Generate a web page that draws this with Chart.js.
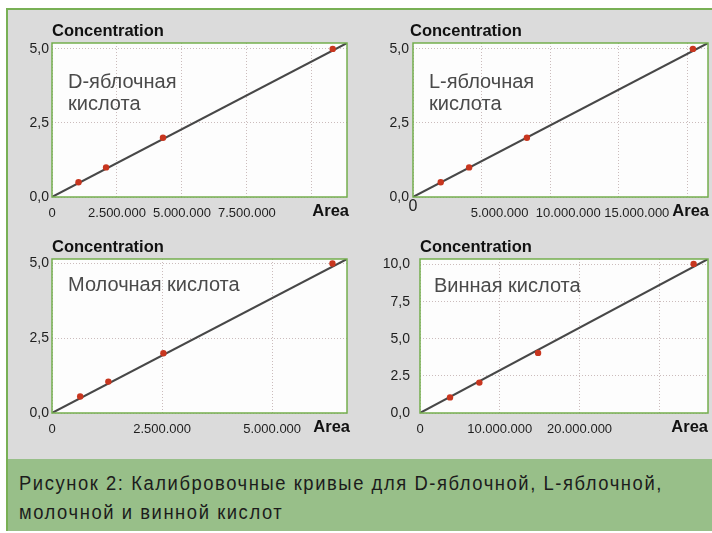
<!DOCTYPE html>
<html>
<head>
<meta charset="utf-8">
<script src="https://cdn.jsdelivr.net/npm/chart.js@4.4.1/dist/chart.umd.min.js"></script>
<style>
  html, body { margin: 0; padding: 0; background: #ffffff; }
  #fig { position: relative; width: 712px; height: 533px; overflow: hidden; background: #ffffff; }
  #frame {
    position: absolute; left: 6px; top: 8px; width: 706px; height: 451px;
    background: #dbdbdb; border-left: 2px solid #78b055; border-top: 2px solid #78b055;
    box-sizing: border-box;
  }
  #caption {
    position: absolute; left: 6px; top: 459px; width: 706px; height: 72px;
    background: #98bf89; border-left: 2px solid #78b055; box-sizing: border-box;
    color: #1c1c1c; overflow: hidden;
  }
  #caption div {
    position: absolute; left: 11px; top: 10px; transform-origin: 0 0; transform: scaleX(0.92);
    font-family: "Liberation Sans Narrow", "Liberation Sans", Arial, sans-serif;
    font-size: 20px; line-height: 29px; letter-spacing: 1.7px; white-space: nowrap;
  }
  canvas { position: absolute; }
</style>
</head>
<body>
<div id="fig">
  <div id="frame"></div>
  <canvas id="pA" width="356" height="230" style="left:0;top:0"></canvas>
  <canvas id="pB" width="356" height="230" style="left:356px;top:0"></canvas>
  <canvas id="pC" width="356" height="229" style="left:0;top:230px"></canvas>
  <canvas id="pD" width="356" height="229" style="left:356px;top:230px"></canvas>
  <div id="caption"><div>Рисунок 2: Калибровочные кривые для D-яблочной, L-яблочной,<br>молочной и винной кислот</div></div>
</div>
<script>
// ---- D-malic acid ----
const dMalicArea = [1020000, 2080000, 4270000, 10800000];
const dMalicConc = [0.5, 1.0, 2.0, 5.0];
const dMalicFitArea = [0, 11350000];
const dMalicFitConc = [0, 5.2];
const dMalicXTicks = [0, 2500000, 5000000, 7500000, 10000000];
const dMalicXLabels = ['0', '2.500.000', '5.000.000', '7.500.000', ''];
const dMalicYTicks = [0, 2.5, 5.0];
const dMalicYLabels = ['0,0', '2,5', '5,0'];

// ---- L-malic acid ----
const lMalicArea = [2020000, 4090000, 8300000, 20400000];
const lMalicConc = [0.5, 1.0, 2.0, 5.0];
const lMalicFitArea = [0, 21500000];
const lMalicFitConc = [0, 5.2];
const lMalicXTicks = [0, 5000000, 10000000, 15000000, 20000000];
const lMalicXLabels = ['', '5.000.000', '10.000.000', '15.000.000', ''];
const lMalicYTicks = [0, 2.5, 5.0];
const lMalicYLabels = ['0,0', '2,5', '5,0'];

// ---- lactic acid ----
const lacticArea = [640000, 1280000, 2530000, 6370000];
const lacticConc = [0.55, 1.05, 2.0, 5.0];
const lacticFitArea = [0, 6700000];
const lacticFitConc = [0, 5.15];
const lacticXTicks = [0, 2500000, 5000000];
const lacticXLabels = ['0', '2.500.000', '5.000.000'];
const lacticYTicks = [0, 2.5, 5.0];
const lacticYLabels = ['0,0', '2,5', '5,0'];

// ---- tartaric acid ----
const tartaricArea = [3760000, 7440000, 14800000, 34300000];
const tartaricConc = [1.05, 2.05, 4.05, 10.05];
const tartaricFitArea = [0, 36100000];
const tartaricFitConc = [0, 10.38];
const tartaricXTicks = [0, 10000000, 20000000, 30000000];
const tartaricXLabels = ['0', '10.000.000', '20.000.000', ''];
const tartaricYTicks = [0, 2.5, 5.0, 7.5, 10.0];
const tartaricYLabels = ['0,0', '2.5', '5,0', '7,5', '10,0'];

const FONT = '"Liberation Sans", Arial, Helvetica, sans-serif';

// Panel decoration: white plot area, green frame, axis titles and the acid name.
const panelDecor = {
  id: 'panelDecor',
  beforeDraw(chart) {
    const { ctx, chartArea: a } = chart;
    ctx.save();
    ctx.fillStyle = '#fdfdfd';
    ctx.fillRect(a.left, a.top, a.width, a.height);
    ctx.restore();
  },
  beforeDatasetsDraw(chart, args, o) {
    const { ctx, chartArea: a } = chart;
    ctx.save();
    ctx.fillStyle = '#4a4a4a';
    ctx.font = '20px ' + FONT;
    ctx.textAlign = 'left';
    ctx.textBaseline = 'alphabetic';
    o.note.forEach((line, i) => ctx.fillText(line, a.left + o.noteDx, a.top + o.noteDy + i * 22.5));
    ctx.restore();
  },
  afterDraw(chart, args, o) {
    const { ctx, chartArea: a } = chart;
    ctx.save();
    ctx.strokeStyle = '#74ae4e';
    ctx.lineWidth = 1.5;
    ctx.strokeRect(a.left, a.top, a.width, a.height);
    ctx.fillStyle = '#111111';
    ctx.font = 'bold 16.5px ' + FONT;
    ctx.textBaseline = 'alphabetic';
    ctx.textAlign = 'left';
    ctx.fillText(o.yTitle, a.left + o.yTitleDx, a.top - 7);
    ctx.textAlign = 'right';
    ctx.fillText(o.xTitle, a.right + o.xTitleDx, a.bottom + 19);
    ctx.restore();
  }
};

function pairs(xs, ys) { return xs.map((x, i) => ({ x: x, y: ys[i] })); }

function fixedTicks(values) {
  return scale => { scale.ticks = values.map(v => ({ value: v })); };
}

function makePanel(id, d, L) {
  const grid = { color: 'rgba(185,165,165,0.75)', lineWidth: 1, drawTicks: false };
  const scales = {
    x: {
      type: 'linear', position: 'bottom', min: 0, max: d.xMax,
      afterBuildTicks: fixedTicks(d.xTicks),
      afterFit: s => { s.height = L.xAxisH; },
      grid: grid,
      border: { display: false, dash: [1, 2] },
      ticks: {
        autoSkip: false, maxRotation: 0, padding: 9, color: '#1e1e1e',
        labelOffset: L.xLabelOffset || 0,
        font: { family: FONT, size: 13 },
        callback: (v, i) => d.xLabels[i]
      }
    },
    y: {
      type: 'linear', min: 0, max: d.yMax,
      afterBuildTicks: fixedTicks(d.yTicks),
      afterFit: s => { s.width = L.yAxisW; },
      grid: grid,
      border: { display: false, dash: [1, 2] },
      ticks: {
        autoSkip: false, padding: L.yPad, color: '#1e1e1e',
        font: { family: FONT, size: 14 },
        callback: (v, i) => d.yLabels[i]
      }
    }
  };
  if (d.zeroLabel) {
    // axis anchored at y = 0 that carries only the (unshifted, larger) origin label
    scales.xZero = {
      type: 'linear', axis: 'x', position: { y: 0 },
      min: 0, max: d.xMax,
      afterBuildTicks: fixedTicks([0]),
      grid: { display: false, drawTicks: false },
      border: { display: false },
      ticks: {
        autoSkip: false, maxRotation: 0, padding: 0, color: '#1e1e1e',
        font: { family: FONT, size: 16 },
        callback: () => d.zeroLabel
      }
    };
  }
  new Chart(document.getElementById(id), {
    type: 'scatter',
    data: {
      datasets: [
        {
          data: pairs(d.area, d.conc),
          pointRadius: 3.2, pointHoverRadius: 3.2,
          pointBackgroundColor: '#c8361f', pointBorderWidth: 0,
          showLine: false
        },
        {
          data: pairs(d.fitArea, d.fitConc),
          showLine: true, pointRadius: 0,
          borderColor: '#474747', borderWidth: 2
        }
      ]
    },
    options: {
      responsive: false, animation: false,
      layout: { padding: { left: L.padLeft, top: L.padTop, right: L.padRight, bottom: 0 } },
      scales: scales,
      plugins: {
        legend: { display: false }, tooltip: { enabled: false },
        panelDecor: {
          yTitle: 'Concentration', xTitle: 'Area', note: d.note,
          yTitleDx: L.yTitleDx, xTitleDx: L.xTitleDx, noteDx: L.noteDx, noteDy: L.noteDy
        }
      }
    },
    plugins: [panelDecor]
  });
}

makePanel('pA', {
  area: dMalicArea, conc: dMalicConc, fitArea: dMalicFitArea, fitConc: dMalicFitConc,
  xTicks: dMalicXTicks, xLabels: dMalicXLabels, yTicks: dMalicYTicks, yLabels: dMalicYLabels,
  xMax: 11350000, yMax: 5.2, note: ['D-яблочная', 'кислота']
}, { padLeft: 0, padTop: 43, padRight: 9, yAxisW: 52, yPad: 3, xAxisH: 33, yTitleDx: 0, xTitleDx: 2, noteDx: 16, noteDy: 44.5 });

makePanel('pB', {
  area: lMalicArea, conc: lMalicConc, fitArea: lMalicFitArea, fitConc: lMalicFitConc,
  xTicks: lMalicXTicks, xLabels: lMalicXLabels, yTicks: lMalicYTicks, yLabels: lMalicYLabels,
  xMax: 21500000, yMax: 5.2, zeroLabel: '0', note: ['L-яблочная', 'кислота']
}, { padLeft: 0, padTop: 43, padRight: 4, yAxisW: 57, yPad: 4, xAxisH: 33, xLabelOffset: 18, yTitleDx: -3, xTitleDx: 1, noteDx: 16, noteDy: 44.5 });

makePanel('pC', {
  area: lacticArea, conc: lacticConc, fitArea: lacticFitArea, fitConc: lacticFitConc,
  xTicks: lacticXTicks, xLabels: lacticXLabels, yTicks: lacticYTicks, yLabels: lacticYLabels,
  xMax: 6700000, yMax: 5.15, note: ['Молочная кислота']
}, { padLeft: 0, padTop: 29, padRight: 9, yAxisW: 52, yPad: 3, xAxisH: 46, yTitleDx: 0, xTitleDx: 3, noteDx: 16, noteDy: 32 });

makePanel('pD', {
  area: tartaricArea, conc: tartaricConc, fitArea: tartaricFitArea, fitConc: tartaricFitConc,
  xTicks: tartaricXTicks, xLabels: tartaricXLabels, yTicks: tartaricYTicks, yLabels: tartaricYLabels,
  xMax: 36100000, yMax: 10.38, note: ['Винная кислота']
}, { padLeft: 0, padTop: 29, padRight: 4, yAxisW: 64, yPad: 10, xAxisH: 46, yTitleDx: 0, xTitleDx: 0, noteDx: 14, noteDy: 33 });
</script>
</body>
</html>
